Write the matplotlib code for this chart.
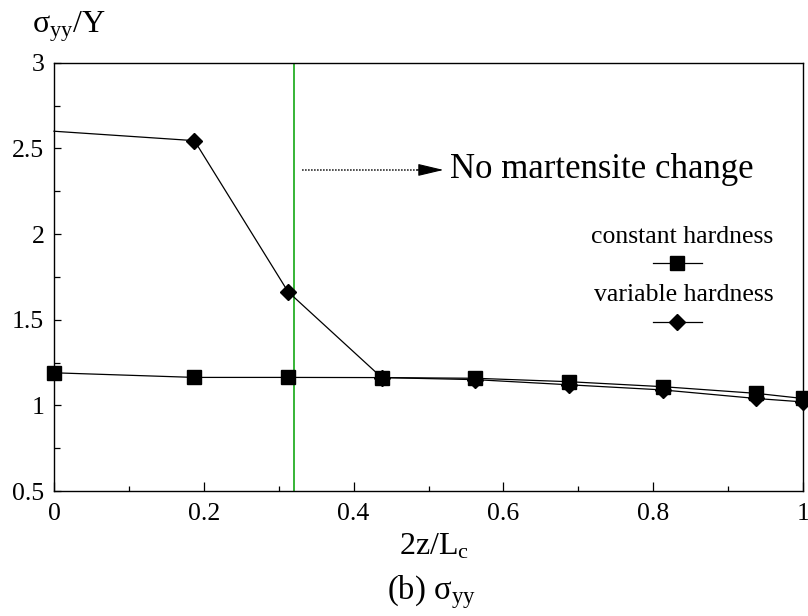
import matplotlib
matplotlib.use("Agg")
import matplotlib.pyplot as plt
from matplotlib.ticker import MultipleLocator

plt.rcParams['font.family'] = ['Liberation Serif', 'DejaVu Serif']
plt.rcParams['mathtext.fontset'] = 'custom'
plt.rcParams['mathtext.rm'] = 'Liberation Serif'
plt.rcParams['mathtext.it'] = 'Liberation Serif'
plt.rcParams['mathtext.bf'] = 'Liberation Serif'

# data
z_pos = [0.0, 0.1875, 0.3125, 0.4375, 0.5625, 0.6875, 0.8125, 0.9375, 1.0]
constant_hardness = [1.19, 1.163, 1.163, 1.162, 1.158, 1.138, 1.109, 1.07, 1.04]
variable_hardness = [2.6, 2.545, 1.663, 1.162, 1.15, 1.12, 1.09, 1.04, 1.02]
boundary_x = 0.321
annot_y = 2.374
annot_text = "No martensite change"
legend_labels = ["constant hardness", "variable hardness"]

fig = plt.figure(figsize=(8.08, 6.16), dpi=100)
ax = fig.add_axes([54/808, 1-491/616, 749/808, (491-62.7)/616])

ax.plot(z_pos, variable_hardness, color='black', lw=0.9, marker='D', ms=8.5,
        mfc='black', mec='black', markevery=list(range(1, len(z_pos))),
        clip_on=False, zorder=3)
ax.plot(z_pos, constant_hardness, color='black', lw=0.9, marker='s', ms=9.5,
        mfc='black', mec='black', clip_on=False, zorder=4)

ax.axvline(boundary_x, color='#00a000', lw=1.1, zorder=2)

# annotation
ax.plot([0.3316, 0.49], [annot_y, annot_y], color='#333333', lw=1.2,
        linestyle=(0, (1, 0.8)))
ax.annotate('', xy=(0.52, annot_y), xytext=(0.485, annot_y),
            arrowprops=dict(arrowstyle='-|>,head_length=1.6,head_width=0.38',
                            color='black', lw=0.8, mutation_scale=10,
                            shrinkA=0, shrinkB=0))
ax.text(0.529, annot_y, annot_text, fontsize=25, ha='left', va='center')

# manual legend
ax.text(0.8385, 0.593, legend_labels[0], transform=ax.transAxes, fontsize=18.5,
        ha='center', va='center')
ax.plot([0.7997, 0.865], [0.532, 0.532], transform=ax.transAxes, color='black', lw=0.9)
ax.plot([0.832], [0.532], transform=ax.transAxes, marker='s', ms=9.5, color='black')
ax.text(0.841, 0.458, legend_labels[1], transform=ax.transAxes, fontsize=18.5,
        ha='center', va='center')
ax.plot([0.7997, 0.865], [0.3946, 0.3946], transform=ax.transAxes, color='black', lw=0.9)
ax.plot([0.832], [0.3946], transform=ax.transAxes, marker='D', ms=8.5, color='black')

ax.set_xlim(0, 1)
ax.set_ylim(0.5, 3)
ax.xaxis.set_major_locator(MultipleLocator(0.2))
ax.xaxis.set_minor_locator(MultipleLocator(0.1))
ax.yaxis.set_major_locator(MultipleLocator(0.5))
ax.yaxis.set_minor_locator(MultipleLocator(0.25))
ax.xaxis.set_major_formatter(plt.FuncFormatter(lambda v, p: f"{v:g}"))
ax.yaxis.set_major_formatter(plt.FuncFormatter(lambda v, p: f"{v:g}"))
ax.tick_params(which='both', direction='in', top=False, right=False,
               labelsize=18.5, width=0.9)
ax.tick_params(axis='x', which='major', length=6.5, pad=9)
ax.tick_params(axis='x', which='minor', length=3.6)
ax.tick_params(axis='y', which='major', length=5, pad=7)
ax.tick_params(axis='y', which='minor', length=4.5)
for s in ax.spines.values():
    s.set_linewidth(1.0)

fig.text(32/808, 1-33/616, r'$\mathregular{\sigma_{yy}/Y}$', fontsize=23,
         ha='left', va='baseline')
fig.text(434/808, 1-547/616, r'$\mathregular{2z/L_c}$', fontsize=23,
         ha='center', va='center')
fig.text(432/808, 1-592/616, r'$\mathregular{(b)\ \sigma_{yy}}$', fontsize=23.5,
         ha='center', va='center')

fig.savefig('out.png', dpi=100)
